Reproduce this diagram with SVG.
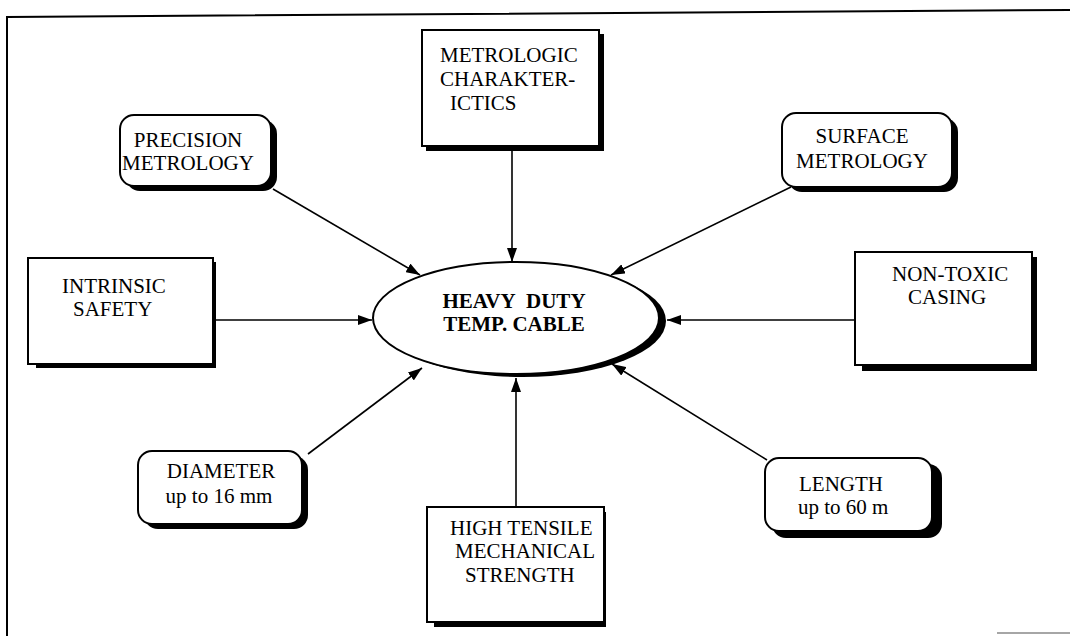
<svg xmlns="http://www.w3.org/2000/svg" width="1070" height="636" viewBox="0 0 1070 636">
<style>
.box{fill:#fff;stroke:#000;stroke-width:2}
.sh{fill:#000}
.t{font-family:"Liberation Serif","Times New Roman",serif;font-size:21px;fill:#000}
.tc{text-anchor:middle}
.b{font-weight:bold;font-size:21px}
.con{stroke:#000;stroke-width:1.6;fill:none}
</style>
<defs>
<marker id="ah" viewBox="0 0 14 10" refX="14" refY="5" markerWidth="14" markerHeight="10" markerUnits="userSpaceOnUse" orient="auto">
<path d="M0,0 L14,5 L0,10 Z" fill="#000"/>
</marker>
</defs>
<rect width="1070" height="636" fill="#fff"/>
<g id="frame">
<path d="M7,636 L7,17 L1070,10" fill="none" stroke="#000" stroke-width="2"/>
<line x1="997" y1="633" x2="1070" y2="633" stroke="#888" stroke-width="1.5"/>
</g>
<g id="connectors">
<line class="con" x1="273" y1="189" x2="420" y2="275" marker-end="url(#ah)"/>
<line class="con" x1="512" y1="148" x2="512" y2="262" marker-end="url(#ah)"/>
<line class="con" x1="791" y1="187" x2="611" y2="275" marker-end="url(#ah)"/>
<line class="con" x1="213" y1="320" x2="372" y2="320" marker-end="url(#ah)"/>
<line class="con" x1="855" y1="320" x2="667" y2="320" marker-end="url(#ah)"/>
<line class="con" x1="308" y1="454" x2="422" y2="368" marker-end="url(#ah)"/>
<line class="con" x1="516" y1="507" x2="516" y2="378" marker-end="url(#ah)"/>
<line class="con" x1="767" y1="460" x2="612" y2="364" marker-end="url(#ah)"/>
</g>
<g id="center">
<ellipse class="sh" cx="523" cy="321" rx="143" ry="56"/>
<ellipse class="box" cx="516" cy="318" rx="143" ry="56"/>
<text class="t tc b" x="514" y="308" word-spacing="6">HEAVY DUTY</text>
<text class="t tc b" x="514" y="331">TEMP. CABLE</text>
</g>
<g id="precision">
<rect class="sh" x="126" y="120" width="151" height="71" rx="14"/>
<rect class="box" x="120" y="115" width="151" height="71" rx="14"/>
<text class="t tc" x="188" y="147">PRECISION</text>
<text class="t tc" x="188" y="170">METROLOGY</text>
</g>
<g id="metrologic">
<rect class="sh" x="426" y="34" width="178" height="117"/>
<rect class="box" x="422" y="30" width="177" height="116"/>
<text class="t" x="440" y="62">METROLOGIC</text>
<text class="t" x="440" y="86">CHARAKTER-</text>
<text class="t" x="450" y="110">ICTICS</text>
</g>
<g id="surface">
<rect class="sh" x="788" y="118" width="170" height="74" rx="14"/>
<rect class="box" x="782" y="113" width="170" height="74" rx="14"/>
<text class="t tc" x="862" y="143">SURFACE</text>
<text class="t tc" x="862" y="168">METROLOGY</text>
</g>
<g id="intrinsic">
<rect class="sh" x="36" y="262" width="180" height="106"/>
<rect class="box" x="28" y="258" width="185" height="106"/>
<text class="t" x="62" y="293">INTRINSIC</text>
<text class="t" x="73" y="316">SAFETY</text>
</g>
<g id="nontoxic">
<rect class="sh" x="862" y="257" width="175" height="114"/>
<rect class="box" x="855" y="252" width="177" height="113"/>
<text class="t" x="892" y="281">NON-TOXIC</text>
<text class="t" x="908" y="304">CASING</text>
</g>
<g id="diameter">
<rect class="sh" x="144" y="456" width="164" height="73" rx="14"/>
<rect class="box" x="138" y="451" width="164" height="73" rx="14"/>
<text class="t tc" x="221" y="478">DIAMETER</text>
<text class="t tc" x="219" y="503">up to 16 mm</text>
</g>
<g id="tensile">
<rect class="sh" x="434" y="512" width="172" height="115"/>
<rect class="box" x="427" y="507" width="177" height="115"/>
<text class="t" x="450" y="535">HIGH TENSILE</text>
<text class="t" x="455" y="558">MECHANICAL</text>
<text class="t" x="465" y="582">STRENGTH</text>
</g>
<g id="length">
<rect class="sh" x="772" y="464" width="170" height="74" rx="14"/>
<rect class="box" x="765" y="458" width="167" height="73" rx="14"/>
<text class="t" x="799" y="491">LENGTH</text>
<text class="t" x="798" y="514">up to 60 m</text>
</g>
</svg>
